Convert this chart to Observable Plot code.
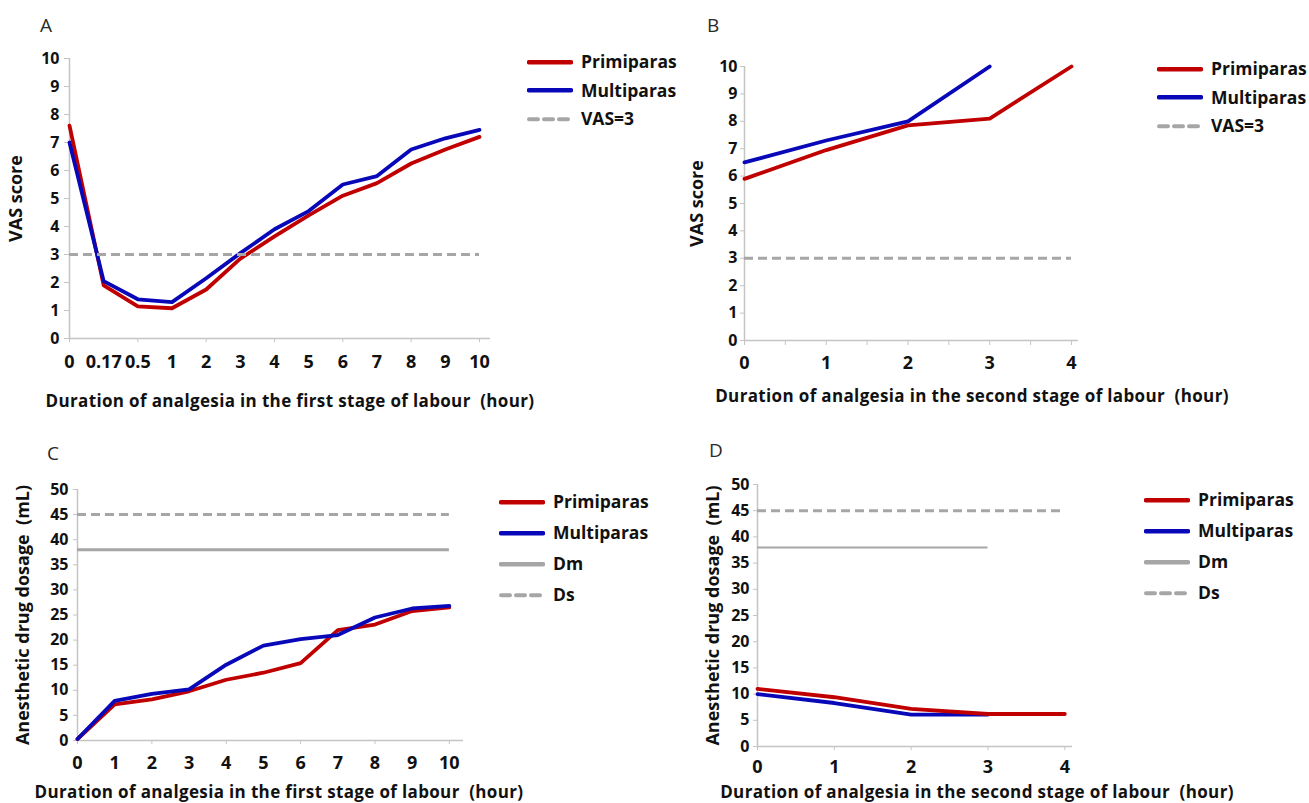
<!DOCTYPE html>
<html>
<head>
<meta charset="utf-8">
<script src="https://cdn.jsdelivr.net/npm/d3@7"></script>
<script src="https://cdn.jsdelivr.net/npm/@observablehq/plot@0.6"></script>
<style>
  html, body { margin: 0; padding: 0; background: #fff; }
  #root { position: relative; width: 1309px; height: 803px; overflow: hidden; font-family: "Open Sans", "Noto Sans", sans-serif; }
  .panel { position: absolute; }
  .letter { position: absolute; font-size: 19px; color: #2a2a2a; line-height: 1; }
  .xtitle { position: absolute; font-weight: bold; font-size: 17px; letter-spacing: 0.35px; color: #111; white-space: pre; transform: translate(-50%, -50%); line-height: 1; }
  .legend-row { position: absolute; display: flex; align-items: center; font-weight: bold; font-size: 17.5px; color: #111; transform: translateY(-50%); line-height: 1; }
  .legend-row svg { margin-right: 8px; }
</style>
</head>
<body>
<div id="root"></div>
<script>
// ---------------- data ----------------
// Panel A: VAS score, first stage of labour (categorical hours)
const aCategories = ["0", "0.17", "0.5", "1", "2", "3", "4", "5", "6", "7", "8", "9", "10"];
const aPrimiparas = [7.6, 1.9, 1.15, 1.08, 1.75, 2.85, 3.65, 4.4, 5.1, 5.55, 6.25, 6.75, 7.2];
const aMultiparas = [7.0, 2.05, 1.4, 1.3, 2.15, 3.05, 3.9, 4.55, 5.5, 5.8, 6.75, 7.15, 7.45];
const vasThreshold = 3;

// Panel B: VAS score, second stage of labour
const bHours = [0, 1, 2, 3, 4];
const bPrimiparas = [5.9, 6.95, 7.85, 8.1, 10];
const bMultiparas = [6.5, 7.3, 8.0, 10];          // hours 0..3
const bTickHours = [0, 0.5, 1, 1.5, 2, 2.5, 3, 3.5, 4];

// Panel C: anesthetic drug dosage, first stage of labour
const cHours = [0, 1, 2, 3, 4, 5, 6, 7, 8, 9, 10];
const cPrimiparas = [0.3, 7.2, 8.2, 9.8, 12.1, 13.5, 15.4, 22.0, 23.1, 25.8, 26.5];
const cMultiparas = [0.3, 7.9, 9.3, 10.2, 15.1, 18.9, 20.2, 21.0, 24.5, 26.3, 26.8];
const cTickHours = [0, 2, 4, 6, 8, 10];

// Panel D: anesthetic drug dosage, second stage of labour
const dHours = [0, 1, 2, 3, 4];
const dPrimiparas = [11.0, 9.4, 7.2, 6.2, 6.2];
const dMultiparas = [10.0, 8.3, 6.1, 6.1];        // hours 0..3
const dDmEndHour = 3;

const dmValue = 38;   // Dm
const dsValue = 45;   // Ds

const vasTicks = [0, 1, 2, 3, 4, 5, 6, 7, 8, 9, 10];
const doseTicks = [0, 5, 10, 15, 20, 25, 30, 35, 40, 45, 50];

const xTitleFirst = "Duration of analgesia in the first stage of labour  (hour)";
const xTitleSecond = "Duration of analgesia in the second stage of labour  (hour)";
const yTitleVAS = "VAS score";
const yTitleDose = "Anesthetic drug dosage  (mL)";

// ---------------- style ----------------
const RED = "#c00000";
const BLUE = "#0808b8";
const REF = "#a6a6a6";
const AXIS = "#c4c4c4";
const INK = "#111111";
const LW = 3.8;
const DASH = "9,5";
const YTICK_FS = 16;
const XTICK_FS = 18;
const YTITLE_FS = 18;
const baseStyle = { fontFamily: '"Open Sans", "Noto Sans", sans-serif', fontWeight: "bold", fontSize: "16px", background: "transparent", color: INK, overflow: "visible" };
const fmtInt = d => String(d);

const root = document.getElementById("root");
function place(el, left, top) {
  el.classList.add("panel");
  el.style.left = left + "px";
  el.style.top = top + "px";
  root.appendChild(el);
}
function addText(cls, text, left, top) {
  const d = document.createElement("div");
  d.className = cls;
  d.textContent = text;
  d.style.left = left + "px";
  d.style.top = top + "px";
  root.appendChild(d);
}
function addLegend(items, left, top, gap) {
  items.forEach((it, k) => {
    const row = document.createElement("div");
    row.className = "legend-row";
    row.style.left = left + "px";
    row.style.top = (top + k * gap) + "px";
    const ns = "http://www.w3.org/2000/svg";
    const s = document.createElementNS(ns, "svg");
    s.setAttribute("width", 46); s.setAttribute("height", 8);
    const l = document.createElementNS(ns, "line");
    l.setAttribute("x1", 2); l.setAttribute("x2", 44); l.setAttribute("y1", 4); l.setAttribute("y2", 4);
    l.setAttribute("stroke", it.color); l.setAttribute("stroke-width", it.width);
    l.setAttribute("stroke-linecap", "round");
    if (it.dash) l.setAttribute("stroke-dasharray", it.dash);
    s.appendChild(l);
    row.appendChild(s);
    const t = document.createElement("span");
    t.textContent = it.label;
    row.appendChild(t);
    root.appendChild(row);
  });
}
const rows = (xs, vs) => vs.map((v, i) => ({ x: xs[i], v }));
const yTitle = (label, offset) => Plot.axisY({ ticks: [], tickSize: 0, fill: INK, fontSize: YTITLE_FS, fontWeight: "bold",
  label, labelAnchor: "center", labelArrow: "none", labelOffset: offset });

// ---------------- Panel A ----------------
const aIdx = aCategories.map((_, i) => i);
const aTickIdx = aIdx.filter(i => i % 2 === 0);
const aLast = aIdx[aIdx.length - 1];
place(Plot.plot({
  width: 500, height: 380,
  marginLeft: 69, marginRight: 10, marginTop: 58, marginBottom: 42,
  x: { domain: [0, aLast * 1.0268] },
  y: { domain: [0, 10] },
  style: baseStyle,
  marks: [
    Plot.ruleY([0], { stroke: AXIS, strokeWidth: 1.5 }),
    Plot.ruleX([0], { stroke: AXIS, strokeWidth: 1.5 }),
    Plot.axisY({ ticks: vasTicks, tickSize: 5, tickPadding: 5, stroke: AXIS, fill: INK, fontSize: YTICK_FS, fontWeight: "bold", label: null }),
    yTitle(yTitleVAS, 60),
    Plot.axisX({ ticks: aTickIdx, tickSize: 4, tickFormat: () => "", stroke: AXIS, label: null }),
    Plot.axisX({ ticks: aIdx, tickSize: 0, tickPadding: 17, tickFormat: i => aCategories[i], fill: INK, fontSize: XTICK_FS, fontWeight: "bold", label: null }),
    Plot.line(rows(aIdx, aPrimiparas), { x: "x", y: "v", stroke: RED, strokeWidth: LW }),
    Plot.line(rows(aIdx, aMultiparas), { x: "x", y: "v", stroke: BLUE, strokeWidth: LW }),
    Plot.ruleY([{ y: vasThreshold, x1: aIdx[0], x2: aLast }], { y: "y", x1: "x1", x2: "x2", stroke: REF, strokeWidth: 3, strokeDasharray: DASH, strokeLinecap: "butt" })
  ]
}), 0, 0);
addText("letter", "A", 40, 16);
addText("xtitle", xTitleFirst, 290, 400);
addLegend([
  { label: "Primiparas", color: RED, width: 4.5 },
  { label: "Multiparas", color: BLUE, width: 4.5 },
  { label: "VAS=3", color: REF, width: 4, dash: "9,6" }
], 527, 62, 28.5);

// ---------------- Panel B ----------------
place(Plot.plot({
  width: 400, height: 380,
  marginLeft: 54, marginRight: 12, marginTop: 66, marginBottom: 40,
  x: { domain: [0, 4.086] },
  y: { domain: [0, 10] },
  style: baseStyle,
  marks: [
    Plot.ruleY([0], { stroke: AXIS, strokeWidth: 1.5 }),
    Plot.ruleX([0], { stroke: AXIS, strokeWidth: 1.5 }),
    Plot.axisY({ ticks: vasTicks, tickSize: 4, tickPadding: 3, stroke: AXIS, fill: INK, fontSize: YTICK_FS, fontWeight: "bold", label: null }),
    yTitle(yTitleVAS, 54),
    Plot.axisX({ ticks: bTickHours, tickSize: 5, tickFormat: () => "", stroke: AXIS, label: null }),
    Plot.axisX({ ticks: bHours, tickSize: 0, tickPadding: 16, tickFormat: fmtInt, fill: INK, fontSize: XTICK_FS, fontWeight: "bold", label: null }),
    Plot.line(rows(bHours, bPrimiparas), { x: "x", y: "v", stroke: RED, strokeWidth: LW }),
    Plot.line(rows(bHours, bMultiparas), { x: "x", y: "v", stroke: BLUE, strokeWidth: LW }),
    Plot.ruleY([{ y: vasThreshold, x1: bHours[0], x2: bHours[bHours.length - 1] }], { y: "y", x1: "x1", x2: "x2", stroke: REF, strokeWidth: 3, strokeDasharray: DASH, strokeLinecap: "butt" })
  ]
}), 690, 0);
addText("letter", "B", 707, 16);
addText("xtitle", xTitleSecond, 972, 395);
addLegend([
  { label: "Primiparas", color: RED, width: 4.5 },
  { label: "Multiparas", color: BLUE, width: 4.5 },
  { label: "VAS=3", color: REF, width: 4, dash: "9,6" }
], 1157, 69, 28.5);

// ---------------- Panel C ----------------
place(Plot.plot({
  width: 480, height: 350,
  marginLeft: 77, marginRight: 17, marginTop: 59, marginBottom: 40,
  x: { domain: [0, 10.38] },
  y: { domain: [0, 50] },
  style: baseStyle,
  marks: [
    Plot.ruleY([0], { stroke: AXIS, strokeWidth: 1.5 }),
    Plot.ruleX([0], { stroke: AXIS, strokeWidth: 1.5 }),
    Plot.axisY({ ticks: doseTicks, tickSize: 4, tickPadding: 5, stroke: AXIS, fill: INK, fontSize: YTICK_FS, fontWeight: "bold", label: null }),
    yTitle(yTitleDose, 61),
    Plot.axisX({ ticks: cTickHours, tickSize: 4, tickFormat: () => "", stroke: AXIS, label: null }),
    Plot.axisX({ ticks: cHours, tickSize: 0, tickPadding: 16, tickFormat: fmtInt, fill: INK, fontSize: XTICK_FS, fontWeight: "bold", label: null }),
    Plot.ruleY([{ y: dmValue, x1: cHours[0], x2: cHours[cHours.length - 1] }], { y: "y", x1: "x1", x2: "x2", stroke: REF, strokeWidth: 3 }),
    Plot.ruleY([{ y: dsValue, x1: cHours[0], x2: cHours[cHours.length - 1] }], { y: "y", x1: "x1", x2: "x2", stroke: REF, strokeWidth: 3, strokeDasharray: DASH, strokeLinecap: "butt" }),
    Plot.line(rows(cHours, cPrimiparas), { x: "x", y: "v", stroke: RED, strokeWidth: LW }),
    Plot.line(rows(cHours, cMultiparas), { x: "x", y: "v", stroke: BLUE, strokeWidth: LW })
  ]
}), 0, 430);
addText("letter", "C", 47, 444);
addText("xtitle", xTitleFirst, 279, 791);
addLegend([
  { label: "Primiparas", color: RED, width: 4.5 },
  { label: "Multiparas", color: BLUE, width: 4.5 },
  { label: "Dm", color: REF, width: 4.5 },
  { label: "Ds", color: REF, width: 4, dash: "9,6" }
], 499, 502, 31);

// ---------------- Panel D ----------------
place(Plot.plot({
  width: 400, height: 360,
  marginLeft: 67, marginRight: 18, marginTop: 54, marginBottom: 44,
  x: { domain: [0, 4.10] },
  y: { domain: [0, 50] },
  style: baseStyle,
  marks: [
    Plot.ruleY([0], { stroke: AXIS, strokeWidth: 1.5 }),
    Plot.ruleX([0], { stroke: AXIS, strokeWidth: 1.5 }),
    Plot.axisY({ ticks: doseTicks, tickSize: 4, tickPadding: 4, stroke: AXIS, fill: INK, fontSize: YTICK_FS, fontWeight: "bold", label: null }),
    yTitle(yTitleDose, 51),
    Plot.axisX({ ticks: dHours, tickSize: 4, tickFormat: () => "", stroke: AXIS, label: null }),
    Plot.axisX({ ticks: dHours, tickSize: 0, tickPadding: 14, tickFormat: fmtInt, fill: INK, fontSize: XTICK_FS, fontWeight: "bold", label: null }),
    Plot.ruleY([{ y: dmValue, x1: dHours[0], x2: dDmEndHour }], { y: "y", x1: "x1", x2: "x2", stroke: REF, strokeWidth: 2 }),
    Plot.ruleY([{ y: dsValue, x1: dHours[0], x2: dHours[dHours.length - 1] }], { y: "y", x1: "x1", x2: "x2", stroke: REF, strokeWidth: 3, strokeDasharray: DASH, strokeLinecap: "butt" }),
    Plot.line(rows(dHours, dMultiparas), { x: "x", y: "v", stroke: BLUE, strokeWidth: LW }),
    Plot.line(rows(dHours, dPrimiparas), { x: "x", y: "v", stroke: RED, strokeWidth: LW })
  ]
}), 690, 430);
addText("letter", "D", 709, 441);
addText("xtitle", xTitleSecond, 977, 791);
addLegend([
  { label: "Primiparas", color: RED, width: 4.5 },
  { label: "Multiparas", color: BLUE, width: 4.5 },
  { label: "Dm", color: REF, width: 4.5 },
  { label: "Ds", color: REF, width: 4, dash: "9,6" }
], 1144, 500, 31);
</script>
</body>
</html>
